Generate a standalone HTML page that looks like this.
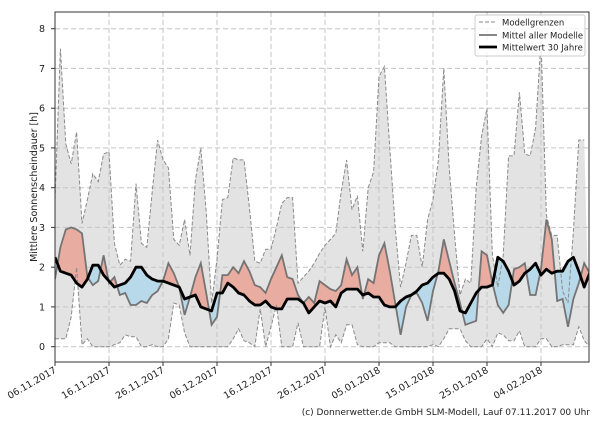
<!DOCTYPE html>
<html><head><meta charset="utf-8"><style>
html,body{margin:0;padding:0;background:#fff}
svg text{font-family:"DejaVu Sans","Liberation Sans",sans-serif;fill:#222}
</style></head><body>
<svg id="s" width="600" height="420" xmlns="http://www.w3.org/2000/svg"></svg>
<script>
const up=[3.7,7.5,5.1,4.6,5.4,3.1,3.7,4.35,4.15,4.85,4.9,2.6,2.05,2.2,2.15,4.1,2.6,2.5,3.9,5.2,4.7,4.5,2.7,2.55,3.2,2.3,4.2,5.0,3.4,1.1,2.2,3.7,3.75,4.75,4.7,4.7,3.5,2.15,2.1,2.45,2.45,3.0,3.6,3.75,3.75,1.6,1.75,1.9,2.1,2.35,2.55,2.7,2.85,3.9,4.7,3.45,3.8,2.4,4.0,4.4,6.8,7.05,5.0,3.0,1.5,2.1,2.8,2.8,2.0,3.2,3.7,4.7,7.0,4.5,2.8,1.3,1.7,1.6,4.0,5.3,6.0,2.3,1.5,2.3,4.8,4.8,6.4,4.85,4.8,5.5,7.7,3.3,2.8,2.8,1.4,1.1,2.9,5.2,5.2];
const lo=[0.2,0.2,0.2,0.75,2.0,0.05,0.2,0,0,0,0,0.05,0.1,0.3,0.25,0.25,0,0,0.05,0,0,0.2,1.1,1.05,0.35,0,0,0,0,0,0,0,0,0.2,0.45,0.15,0.1,0,0.95,0,0.5,1.05,0,0,0,0.6,0,0,0,0,1.0,0,0.3,0.1,0.55,0.55,0.05,0,0,0,0.1,0.1,0.1,0,0,0,0,0,0,0,0.05,0,0.2,0.45,0.45,0.45,0.15,0,0,0,0.2,0,0.35,0.3,0.15,0.15,0.4,0,0,0,0.2,0.2,0,0,0.05,0.05,0.05,0.5,0.15,0];
const md=[1.7,2.5,2.95,3.0,2.95,2.85,1.75,1.55,1.65,2.3,1.6,1.75,1.3,1.35,1.05,1.05,1.15,1.1,1.3,1.4,1.65,2.1,1.85,1.5,0.8,1.25,1.75,2.1,1.35,0.55,0.75,1.8,1.8,2.0,1.85,2.15,1.9,1.55,1.5,1.35,1.7,2.0,2.3,1.75,1.7,1.3,1.1,1.25,1.1,1.65,1.55,1.45,1.4,1.55,2.2,1.8,2.0,1.2,1.7,1.6,2.3,2.6,1.9,1.1,0.3,1.0,1.3,1.35,1.1,0.65,1.4,1.9,2.7,2.15,1.6,1.1,0.55,0.6,0.65,2.4,2.3,1.6,1.05,0.85,1.05,1.95,2.0,2.1,1.3,1.3,1.95,3.2,2.7,1.15,1.2,0.5,1.2,1.6,2.1,1.85];
const cl=[2.25,1.9,1.85,1.8,1.6,1.5,1.7,2.05,2.05,1.8,1.65,1.5,1.55,1.6,1.75,2.0,2.0,1.8,1.7,1.65,1.65,1.6,1.55,1.5,1.2,1.25,1.3,1.0,0.95,0.9,1.35,1.35,1.6,1.5,1.35,1.3,1.15,1.05,1.05,1.15,1.0,0.95,0.95,1.2,1.2,1.2,1.1,0.85,1.0,1.15,1.1,1.15,1.0,1.35,1.45,1.45,1.45,1.3,1.35,1.25,1.25,1.05,1.0,1.0,1.15,1.25,1.3,1.4,1.55,1.6,1.75,1.85,1.85,1.7,1.4,0.9,0.85,1.1,1.35,1.5,1.5,1.55,2.25,2.15,1.9,1.55,1.65,1.85,1.95,2.1,1.8,1.95,1.85,1.9,1.9,2.15,2.25,1.9,1.5,1.85];
const L=55,R=589,T=12,B=362,Y0=346.7,K=39.75,DX=5.4;
const X=d=>(L+d*DX).toFixed(1), Y=v=>(Y0-v*K).toFixed(1);
const pts=a=>a.map((v,i)=>X(i)+','+Y(v)).join(' ');
const rev=a=>a.map((v,i)=>[i,v]).reverse().map(p=>X(p[0])+','+Y(p[1])).join(' ');
const n=up.length-1;
let h='';
h+=`<defs><clipPath id="pa"><rect x="${L}" y="${T}" width="${R-L}" height="${B-T}"/></clipPath>
<clipPath id="aboveCl"><polygon points="${pts(cl)} ${X(n)},0 ${X(0)},0"/></clipPath>
<clipPath id="belowCl"><polygon points="${pts(cl)} ${X(n)},420 ${X(0)},420"/></clipPath></defs>`;
h+=`<g clip-path="url(#pa)">`;
h+=`<polygon points="${pts(up)} ${rev(lo)}" fill="#e3e3e3"/>`;
// grid
for(let v=0;v<=8;v++)h+=`<line x1="${L}" x2="${R}" y1="${Y(v)}" y2="${Y(v)}" stroke="#c4c4c4" stroke-dasharray="5,3" stroke-width="1"/>`;
for(let k=0;k<10;k++)h+=`<line x1="${X(k*10)}" x2="${X(k*10)}" y1="${T}" y2="${B}" stroke="#c4c4c4" stroke-dasharray="5,3" stroke-width="1"/>`;
h+=`<polygon points="${pts(md)} ${X(n)},420 ${X(0)},420" fill="#e8ada0" clip-path="url(#aboveCl)"/>`;
h+=`<polygon points="${pts(md)} ${X(n)},0 ${X(0)},0" fill="#b8d9ea" clip-path="url(#belowCl)"/>`;
h+=`<polyline points="${pts(up)}" fill="none" stroke="#8a8a8a" stroke-width="1" stroke-dasharray="4,2"/>`;
h+=`<polyline points="${pts(lo)}" fill="none" stroke="#8a8a8a" stroke-width="1" stroke-dasharray="4,2"/>`;
h+=`<polyline points="${pts(md)}" fill="none" stroke="#747474" stroke-width="1.8"/>`;
h+=`<polyline points="${pts(cl)}" fill="none" stroke="#000" stroke-width="2.8" stroke-linejoin="round"/>`;
h+=`</g>`;
h+=`<rect x="${L}" y="${T}" width="${R-L}" height="${B-T}" fill="none" stroke="#333" stroke-width="1"/>`;
for(let v=0;v<=8;v++)h+=`<line x1="${L-4}" x2="${L}" y1="${Y(v)}" y2="${Y(v)}" stroke="#333"/><text x="${L-10}" y="${+Y(v)+3.5}" font-size="9.5" text-anchor="end">${v}</text>`;
const dl=["06.11.2017","16.11.2017","26.11.2017","06.12.2017","16.12.2017","26.12.2017","05.01.2018","15.01.2018","25.01.2018","04.02.2018"];
dl.forEach((t,k)=>{const x=+X(k*10);h+=`<line x1="${x}" x2="${x}" y1="${B}" y2="${B+4}" stroke="#333"/><text transform="translate(${x+2},${B+10}) rotate(-30)" font-size="9.5" text-anchor="end">${t}</text>`;});
h+=`<text transform="translate(37,187) rotate(-90)" font-size="9.5" text-anchor="middle">Mittlere Sonnenscheindauer [h]</text>`;
h+=`<rect x="475" y="15" width="110" height="41" fill="#fff" fill-opacity="0.85" stroke="#ccc" rx="2"/>`;
h+=`<line x1="479" x2="497" y1="22" y2="22" stroke="#8a8a8a" stroke-dasharray="4,2"/><text x="502" y="25.5" font-size="8.5">Modellgrenzen</text>`;
h+=`<line x1="479" x2="497" y1="35" y2="35" stroke="#747474" stroke-width="1.8"/><text x="502" y="38.5" font-size="8.5">Mittel aller Modelle</text>`;
h+=`<line x1="479" x2="497" y1="47" y2="47" stroke="#000" stroke-width="2.8"/><text x="502" y="50.5" font-size="8.5">Mittelwert 30 Jahre</text>`;
h+=`<text x="590" y="415" font-size="9" text-anchor="end">(c) Donnerwetter.de GmbH SLM-Modell, Lauf 07.11.2017 00 Uhr</text>`;
document.getElementById('s').innerHTML=h;
</script>
</body></html>
